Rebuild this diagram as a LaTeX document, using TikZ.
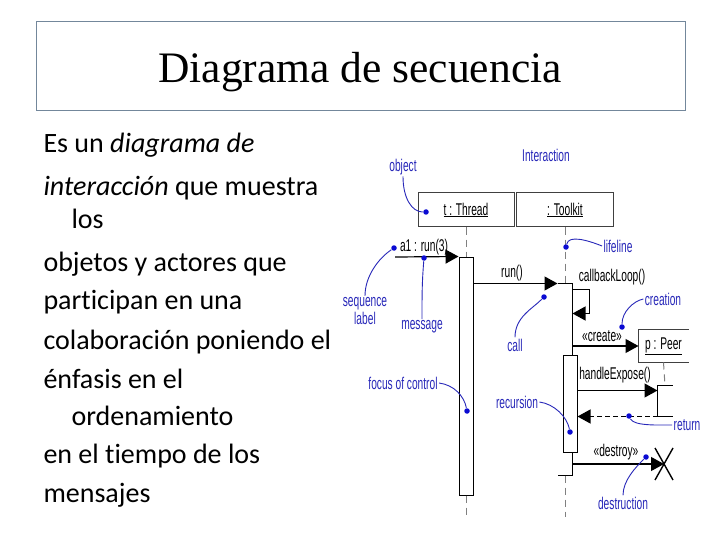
\documentclass[tikz,border=0pt]{standalone}
\usepackage{fontspec}
\setmainfont{Liberation Serif}
\newfontfamily\bodyfont[Ligatures=NoCommon]{Carlito}
\newfontfamily\umlfont[FakeStretch=0.6]{Liberation Sans}
\usetikzlibrary{arrows.meta}
\definecolor{noteblue}{RGB}{40,40,185}
\definecolor{dotblue}{RGB}{10,10,210}
\definecolor{framegray}{RGB}{115,135,155}
\begin{document}
\begin{tikzpicture}[x=1pt, y=-1pt, line width=1pt,
    body/.style={anchor=base west, inner sep=0pt, font=\bodyfont\fontsize{28}{34}\selectfont},
    uml/.style={font=\umlfont\fontsize{17}{18}\selectfont, inner sep=1pt},
    note/.style={uml, text=noteblue},
    objbox/.style={draw=black!75, uml, minimum height=34pt},
    act/.style={draw, fill=white, minimum width=14pt, inner sep=0pt},
    bare/.style={minimum width=14pt, inner sep=0pt},
    life/.style={gray, dash pattern=on 7pt off 5pt},
    msg/.style={line width=1.2pt, -{Triangle[length=13pt,width=14pt]}},
    ret/.style={msg, dash pattern=on 5pt off 3pt},
    hint/.style={noteblue, line width=0.9pt},
    spot/.style={circle, fill=dotblue, inner sep=0pt, minimum size=5.5pt}]
    \fill[white] (0,0) rectangle (720,540);
    \useasboundingbox (0,0) rectangle (720,540);
    % title
    \node[draw=framegray, minimum width=649pt, minimum height=89pt] (titlebox) at (360.5,66) {};
    \node[anchor=base, inner sep=0pt, font=\fontsize{43.5}{50}\selectfont] (title) at (360,83) {Diagrama de secuencia};
    % text
    \node[body] (t1) at (43,153) {Es un \textit{diagrama de}};
    \node[body] (t2) at (43,196) {\textit{interacción} que muestra};
    \node[body] (t3) at (71,229) {los};
    \node[body] (t4) at (43,271) {objetos y actores que};
    \node[body] (t5) at (43,309) {participan en una};
    \node[body] (t6) at (43,349) {colaboración poniendo el};
    \node[body] (t7) at (43,388) {énfasis en el};
    \node[body] (t8) at (71,425) {ordenamiento};
    \node[body] (t9) at (43,463) {en el tiempo de los};
    \node[body] (t10) at (43,502) {mensajes};
    % objects
    \node[objbox, minimum width=96pt] (thread) at (466,210) {\underline{t : Thread}};
    \node[objbox, minimum width=97pt] (toolkit) at (565,210) {\underline{: Toolkit}};
    \node[uml, minimum width=49pt, minimum height=32pt] (peer) at (663.5,346) {\underline{p : Peer}};
    \draw[black!75] (peer.north east) -- (peer.north west) -- (peer.south west) -- (peer.south east);
    % activations
    \node[act, minimum height=238pt] (thrAct) at (466,376) {};
    \node[bare, minimum height=191pt] (tkAct) at (565,379.5) {};
    \draw (tkAct.north west) -- (tkAct.north east) -- (tkAct.south east) -- (tkAct.south west);
    \node[act, minimum height=97pt] (recAct) at (570,403.5) {};
    \node[bare, minimum height=30pt] (peerAct) at (665,401) {};
    \draw (peerAct.north east) -- (peerAct.north west) -- (peerAct.south west) -- (peerAct.south east);
    % lifelines
    \coordinate (thrEnd) at (466,517);
    \coordinate (tkEnd) at (565,517);
    \draw[life] (thread.south) -- (thrAct.north);
    \draw[life] (thrAct.south) -- (thrEnd);
    \draw[life] (toolkit.south) -- (tkAct.north);
    \draw[life] (tkAct.south) -- (tkEnd);
    \draw[life] (peer.south) -- (peerAct.north);
    % messages
    \coordinate (a1start) at (395,257);
    \coordinate (xmark) at (664,464);
    \draw[msg] (a1start) -- (thrAct.north west);
    \draw[msg] (thrAct.east |- tkAct.north) -- (tkAct.north west);
    \draw[msg] ([yshift=-6pt]tkAct.north east) -- ++(17,0) -- ++(0,24) -- ([yshift=-30pt]tkAct.north east);
    \draw[msg] (tkAct.east |- peer.west) -- (peer.west);
    \draw[msg] ([yshift=-36pt]recAct.north east) -- ([yshift=-5pt]peerAct.north west);
    \draw[ret] (peerAct.south west) -- (recAct.east |- peerAct.south west);
    \draw[msg] (tkAct.east |- xmark) -- (xmark);
    \draw[line width=1.4pt] (xmark) +(-9,-16) -- +(9,16) (xmark) +(9,-16) -- +(-9,16);
    \node[uml] (a1lbl) at (424,247) {a1 : run(3)};
    \node[uml] (runlbl) at (512,273) {run()};
    \node[uml] (looplbl) at (612,277) {callbackLoop()};
    \node[uml] (createlbl) at (602,336) {«create»};
    \node[uml] (exposelbl) at (615,375) {handleExpose()};
    \node[uml] (destroylbl) at (616,452) {«destroy»};
    % notes
    \node[note] (interaction) at (546,155) {Interaction};
    \node[note] (objnote) at (403,167) {object};
    \node[note, align=center] (seqnote) at (365,311) {sequence\\label};
    \node[note] (msgnote) at (422,327) {message};
    \node[note] (lifenote) at (618,246) {lifeline};
    \node[note] (callnote) at (515,345) {call};
    \node[note] (creanote) at (663,299) {creation};
    \node[note] (focusnote) at (403,383) {focus of control};
    \node[note] (recnote) at (517,402) {recursion};
    \node[note] (retnote) at (687,425) {return};
    \node[note] (destnote) at (623,503) {destruction};
    \node[spot] (objdot) at (426,212) {};
    \node[spot] (seqdot) at (394,248) {};
    \node[spot] (msgdot) at (424,258) {};
    \node[spot] (lifedot) at (566,247) {};
    \node[spot] (calldot) at (544,297) {};
    \node[spot] (creadot) at (622,327) {};
    \node[spot] (focusdot) at (467,411) {};
    \node[spot] (recdot) at (570,432) {};
    \node[spot] (retdot) at (629,416) {};
    \node[spot] (destdot) at (646,457) {};
    \draw[hint] (objnote.south) .. controls +(0,22) and +(-14,0) .. (objdot);
    \draw[hint] (seqnote.north) .. controls +(0,-20) and +(-15,10) .. (seqdot);
    \draw[hint] (msgnote.north) .. controls +(0,-25) and +(-2,25) .. (msgdot);
    \draw[hint] (lifedot) .. controls +(3,-12) and +(-15,-6) .. (lifenote.west);
    \draw[hint] (callnote.north) .. controls +(0,-20) and +(-12,12) .. (calldot);
    \draw[hint] (creadot) .. controls +(0,-15) and +(-10,2) .. (creanote.west);
    \draw[hint] (focusnote.east) .. controls +(15,2) and +(-3,-15) .. (focusdot);
    \draw[hint] (recnote.east) .. controls +(15,2) and +(-3,-15) .. (recdot);
    \draw[hint] (retdot) .. controls +(5,10) and +(-15,0) .. (retnote.west);
    \draw[hint] (destnote.north) .. controls +(0,-15) and +(-10,10) .. (destdot);
\end{tikzpicture}
\end{document}
